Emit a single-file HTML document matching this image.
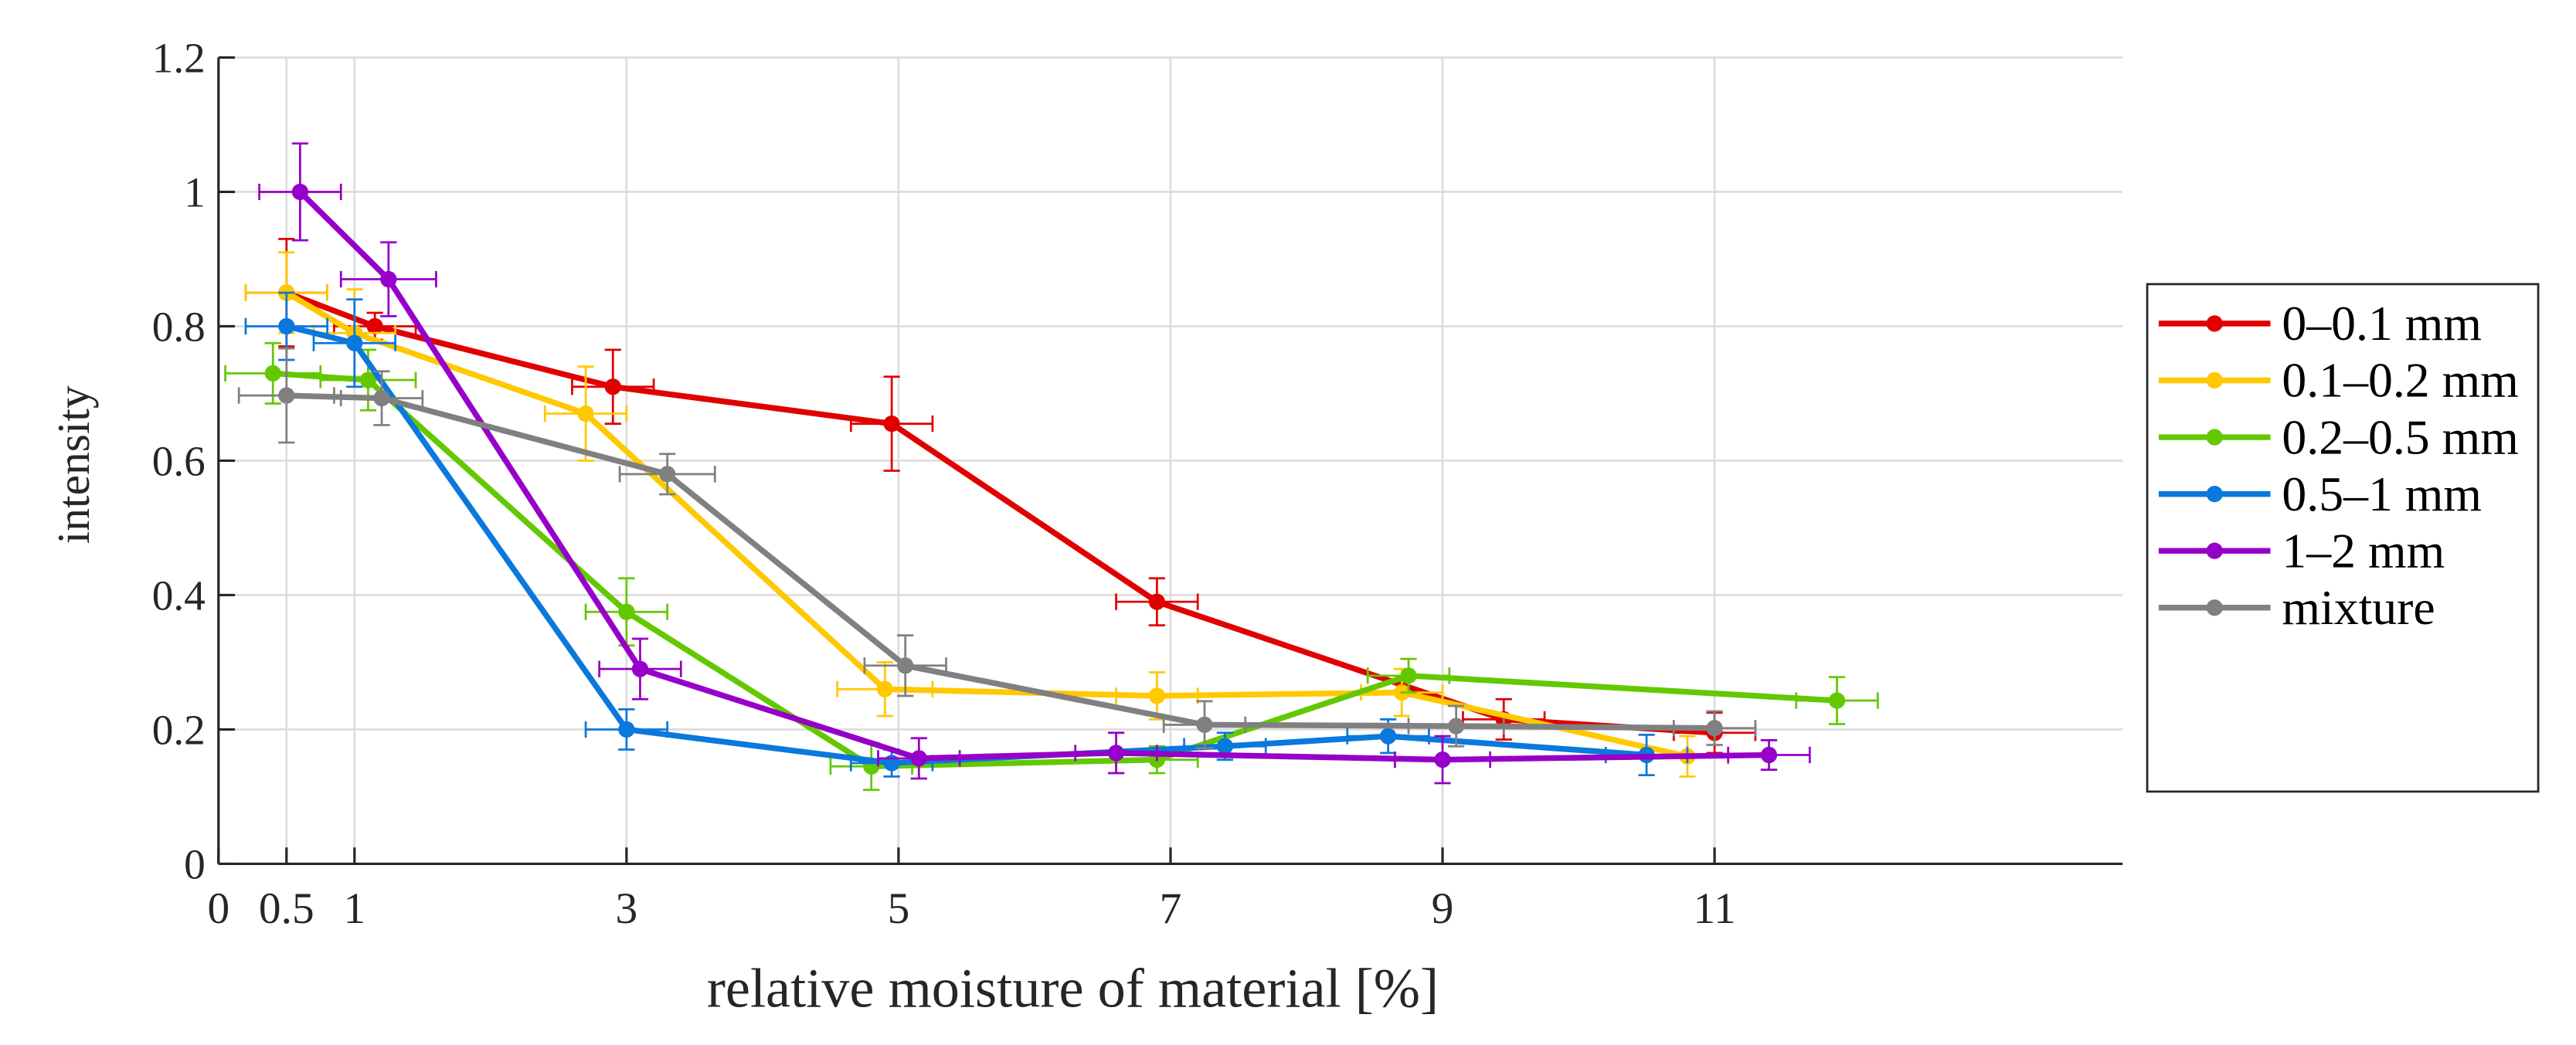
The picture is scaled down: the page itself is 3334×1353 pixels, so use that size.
<!DOCTYPE html>
<html><head><meta charset="utf-8"><style>
html,body{margin:0;padding:0;background:#fff;}
svg{display:block;font-family:"Liberation Serif",serif;}
</style></head><body>
<svg id="chart" width="3334" height="1353" viewBox="0 0 1568 636.3" xmlns="http://www.w3.org/2000/svg"></svg>
<script>
const xTicks=[0,0.5,1,3,5,7,9,11];
const xTickLabels=["0","0.5","1","3","5","7","9","11"];
const xGrid=[0.5,1,3,5,7,9,11];
const yTicks=[0,0.2,0.4,0.6,0.8,1,1.2];
const yTickLabels=["0","0.2","0.4","0.6","0.8","1","1.2"];
const seriesNames=["0–0.1 mm","0.1–0.2 mm","0.2–0.5 mm","0.5–1 mm","1–2 mm","mixture"];
const seriesColors=["#e00000","#ffc800","#64c800","#0a78dc","#9600c8","#808080"];
const xRed=[0.5,1.15,2.9,4.95,6.9,9.45,11.0];
const yRed=[0.85,0.80,0.71,0.655,0.39,0.215,0.195];
const xeRed=[0.3,0.3,0.3,0.3,0.3,0.3,0.3];
const yeRed=[0.08,0.02,0.055,0.07,0.035,0.03,0.03];
const xYel=[0.5,1.0,2.7,4.9,6.9,8.7,10.8];
const yYel=[0.85,0.79,0.67,0.26,0.25,0.255,0.16];
const xeYel=[0.3,0.3,0.3,0.35,0.3,0.3,0.3];
const yeYel=[0.06,0.065,0.07,0.04,0.035,0.035,0.03];
const xGrn=[0.4,1.1,3.0,4.8,6.9,8.75,11.9];
const yGrn=[0.73,0.72,0.375,0.145,0.155,0.28,0.243];
const xeGrn=[0.35,0.35,0.3,0.3,0.3,0.3,0.3];
const yeGrn=[0.045,0.045,0.05,0.035,0.02,0.025,0.035];
const xBlu=[0.5,1.0,3.0,4.95,7.4,8.6,10.5];
const yBlu=[0.80,0.775,0.20,0.15,0.175,0.19,0.162];
const xeBlu=[0.3,0.3,0.3,0.3,0.3,0.3,0.3];
const yeBlu=[0.05,0.065,0.03,0.02,0.02,0.025,0.03];
const xPur=[0.6,1.25,3.1,5.15,6.6,9.0,11.4];
const yPur=[1.0,0.87,0.29,0.157,0.165,0.155,0.162];
const xePur=[0.3,0.35,0.3,0.3,0.3,0.35,0.3];
const yePur=[0.072,0.055,0.045,0.03,0.03,0.035,0.022];
const xGry=[0.5,1.2,3.3,5.05,7.25,9.1,11.0];
const yGry=[0.697,0.693,0.58,0.295,0.207,0.205,0.202];
const xeGry=[0.35,0.3,0.35,0.3,0.3,0.35,0.3];
const yeGry=[0.07,0.04,0.03,0.045,0.035,0.03,0.025];
const allX=[xRed,xYel,xGrn,xBlu,xPur,xGry];
const allY=[yRed,yYel,yGrn,yBlu,yPur,yGry];
const allXE=[xeRed,xeYel,xeGrn,xeBlu,xePur,xeGry];
const allYE=[yeRed,yeYel,yeGrn,yeBlu,yePur,yeGry];

const NS="http://www.w3.org/2000/svg";
const svg=document.getElementById('chart');
const L=133,R=1292,T=35,B=526;
const sx=v=>L+v*(R-L)/14;
const sy=v=>B-v*(B-T)/1.2;
function mk(tag,attrs,parent){const e=document.createElementNS(NS,tag);for(const k in attrs)e.setAttribute(k,attrs[k]);(parent||svg).appendChild(e);return e;}

const grid=mk('g',{});


xGrid.forEach(v=>{const l=mk('line',{x1:sx(v),x2:sx(v),y1:T,y2:B,stroke:'#dcdcdc','stroke-width':1.2},grid);

});
yTicks.forEach(v=>{if(v===0)return;const l=mk('line',{x1:L,x2:R,y1:sy(v),y2:sy(v),stroke:'#dcdcdc','stroke-width':1.2},grid);

});

const axes=mk('g',{stroke:'#262626','stroke-width':1.5,fill:'none'});


mk('line',{x1:L,x2:L,y1:T,y2:B},axes);
mk('line',{x1:L,x2:R,y1:B,y2:B},axes);
xTicks.forEach((v,i)=>{mk('line',{x1:sx(v),x2:sx(v),y1:B,y2:B-10},axes);
const t=mk('text',{x:sx(v),y:562,'font-size':27,'text-anchor':'middle',fill:'#262626'});t.textContent=xTickLabels[i];

});
yTicks.forEach((v,i)=>{mk('line',{x1:L,x2:L+10,y1:sy(v),y2:sy(v)},axes);
const t=mk('text',{x:L-8,y:sy(v)+9,'font-size':26,'text-anchor':'end',fill:'#262626'});t.textContent=yTickLabels[i];

});
const xt=mk('text',{x:653,y:613,'font-size':34,'text-anchor':'middle',fill:'#262626'});xt.textContent='relative moisture of material [%]';


const yt=mk('text',{x:0,y:0,'font-size':28,'text-anchor':'middle',fill:'#262626',transform:'translate(54,283) rotate(-90)'});yt.textContent='intensity';



seriesNames.forEach((n,s)=>{
  const c=seriesColors[s];
  const g=mk('g',{});
  
  
  const X=allX[s],Y=allY[s];
  const eb=mk('g',{stroke:c,'stroke-width':1.3,fill:'none'},g);
  
  
  X.forEach((x,i)=>{const y=Y[i],xe=allXE[s][i],ye=allYE[s][i];
    mk('line',{x1:sx(x-xe),x2:sx(x+xe),y1:sy(y),y2:sy(y)},eb);
    mk('line',{x1:sx(x-xe),x2:sx(x-xe),y1:sy(y)-5,y2:sy(y)+5},eb);
    mk('line',{x1:sx(x+xe),x2:sx(x+xe),y1:sy(y)-5,y2:sy(y)+5},eb);
    mk('line',{x1:sx(x),x2:sx(x),y1:sy(y-ye),y2:sy(y+ye)},eb);
    mk('line',{x1:sx(x)-5,x2:sx(x)+5,y1:sy(y-ye),y2:sy(y-ye)},eb);
    mk('line',{x1:sx(x)-5,x2:sx(x)+5,y1:sy(y+ye),y2:sy(y+ye)},eb);
  });
  const p=mk('polyline',{points:X.map((x,i)=>sx(x)+','+sy(Y[i])).join(' '),stroke:c,'stroke-width':3.5,fill:'none','stroke-linejoin':'round'},g);
  
  
  X.forEach((x,i)=>{const m=mk('circle',{cx:sx(x),cy:sy(Y[i]),r:5,fill:c},g);
    
    });
});

const lg=mk('g',{});


mk('rect',{x:1307,y:173,width:238,height:309,fill:'#fff',stroke:'#262626','stroke-width':1.3},lg);
seriesNames.forEach((n,s)=>{
  const y=197+s*34.6;
  const e=mk('g',{},lg);
  
  
  mk('line',{x1:1314,x2:1382,y1:y,y2:y,stroke:seriesColors[s],'stroke-width':3.5},e);
  mk('circle',{cx:1348,cy:y,r:5,fill:seriesColors[s]},e);
  const t=mk('text',{x:1389,y:y+10,'font-size':30,fill:'#000'},e);t.textContent=n;
});
</script>
</body></html>
